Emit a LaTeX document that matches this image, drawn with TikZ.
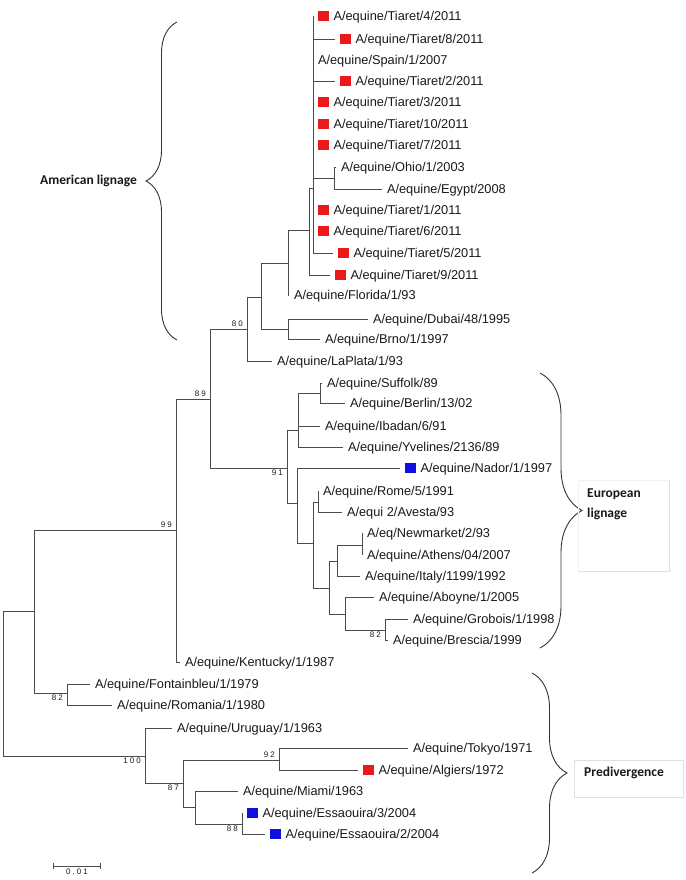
\documentclass[tikz,border=0pt]{standalone}
\usepackage{fontspec}
\usepackage{tikz}
\setmainfont{Liberation Sans}
\newfontfamily\lignagefont{Carlito}
\newfontfamily\bootfont[LetterSpace=25]{Liberation Sans}
\usetikzlibrary{positioning,arrows.meta,decorations.pathreplacing}
\definecolor{tiaretred}{RGB}{235,25,25}
\definecolor{moroccoblue}{RGB}{15,15,225}
\newcommand{\redmark}{\textcolor{tiaretred}{\rule[-0.7pt]{10.5pt}{10.5pt}}\hspace{5pt}}
\newcommand{\bluemark}{\textcolor{moroccoblue}{\rule[-0.7pt]{10.5pt}{10.5pt}}\hspace{5pt}}

\begin{document}
\begin{tikzpicture}[x=1pt,y=-1pt]
	\tikzset{every node/.style={font=\fontsize{12.8}{14}\selectfont,text=black!90}}
	\tikzset{leaf/.style={anchor=west,inner xsep=0pt,outer xsep=5pt,inner ysep=0pt,text height=9.2pt,text depth=0pt}}
	\tikzset{branch/.style={draw=black!70,line width=0.8pt}}
	\tikzset{boot/.style={font=\bootfont\fontsize{8}{9}\selectfont,inner xsep=4pt,inner ysep=2pt}}
	\tikzset{lignage/.style={font=\lignagefont\bfseries\fontsize{13.5}{20}\selectfont,inner sep=0pt,align=left}}
	\tikzset{brace line/.style={draw=black!80,line width=0.9pt,decorate}}
	\tikzset{textbox/.style={draw=black!12,line width=0.8pt}}
	\tikzset{faintbox/.style={draw=black!5,line width=0.8pt}}
	\useasboundingbox (0,0) rectangle (685,880);

	\coordinate (root) at (3,683);
	\coordinate (nG) at (34,611);
	\coordinate (nH) at (67,693);
	\coordinate (n99) at (176,530);
	\coordinate (n89) at (210,399);
	\coordinate (n80) at (247,329);
	\coordinate (nD) at (261,297);
	\coordinate (nC) at (288,263);
	\coordinate (nB) at (309,230);
	\coordinate (nA) at (313,188);
	\coordinate (nOE) at (334,178);
	\coordinate (nDB) at (288,329);
	\coordinate (n91) at (287,468);
	\coordinate (nE1) at (298,430);
	\coordinate (nSB) at (320,393);
	\coordinate (nE2) at (297,503);
	\coordinate (nE3) at (313,543);
	\coordinate (nRA) at (318,502);
	\coordinate (nE4) at (329,588);
	\coordinate (nNAI) at (337,561);
	\coordinate (nNA) at (362,545);
	\coordinate (nAGB) at (345,614);
	\coordinate (nGB) at (385,630);
	\coordinate (nP) at (145,756);
	\coordinate (nQ) at (183,783);
	\coordinate (nT) at (279,760);
	\coordinate (nM) at (195,807);
	\coordinate (nN) at (242,824);

	\node[leaf] (tiaret4) at (313,16) {\redmark A/equine/Tiaret/4/2011};
	\node[leaf] (tiaret8) at (335,39) {\redmark A/equine/Tiaret/8/2011};
	\node[leaf] (spain) at (313,60) {A/equine/Spain/1/2007};
	\node[leaf] (tiaret2) at (335,81) {\redmark A/equine/Tiaret/2/2011};
	\node[leaf] (tiaret3) at (313,102) {\redmark A/equine/Tiaret/3/2011};
	\node[leaf] (tiaret10) at (313,124) {\redmark A/equine/Tiaret/10/2011};
	\node[leaf] (tiaret7) at (313,145) {\redmark A/equine/Tiaret/7/2011};
	\node[leaf] (ohio) at (336,167) {A/equine/Ohio/1/2003};
	\node[leaf] (egypt) at (382,189) {A/equine/Egypt/2008};
	\node[leaf] (tiaret1) at (313,210) {\redmark A/equine/Tiaret/1/2011};
	\node[leaf] (tiaret6) at (313,231) {\redmark A/equine/Tiaret/6/2011};
	\node[leaf] (tiaret5) at (333,253) {\redmark A/equine/Tiaret/5/2011};
	\node[leaf] (tiaret9) at (330,275) {\redmark A/equine/Tiaret/9/2011};
	\node[leaf] (florida) at (289,295) {A/equine/Florida/1/93};
	\node[leaf] (dubai) at (368,319) {A/equine/Dubai/48/1995};
	\node[leaf] (brno) at (320,339) {A/equine/Brno/1/1997};
	\node[leaf] (laplata) at (272,361) {A/equine/LaPlata/1/93};
	\node[leaf] (suffolk) at (322,383) {A/equine/Suffolk/89};
	\node[leaf] (berlin) at (345,403) {A/equine/Berlin/13/02};
	\node[leaf] (ibadan) at (320,426) {A/equine/Ibadan/6/91};
	\node[leaf] (yvelines) at (343,447) {A/equine/Yvelines/2136/89};
	\node[leaf] (nador) at (400,468) {\bluemark A/equine/Nador/1/1997};
	\node[leaf] (rome) at (318,491) {A/equine/Rome/5/1991};
	\node[leaf] (avesta) at (342,512) {A/equi 2/Avesta/93};
	\node[leaf] (newmarket) at (362,533) {A/eq/Newmarket/2/93};
	\node[leaf] (athens) at (362,555) {A/equine/Athens/04/2007};
	\node[leaf] (italy) at (360,576) {A/equine/Italy/1199/1992};
	\node[leaf] (aboyne) at (374,597) {A/equine/Aboyne/1/2005};
	\node[leaf] (grobois) at (408,619) {A/equine/Grobois/1/1998};
	\node[leaf] (brescia) at (388,640) {A/equine/Brescia/1999};
	\node[leaf] (kentucky) at (180,662) {A/equine/Kentucky/1/1987};
	\node[leaf] (fontainbleu) at (90,684) {A/equine/Fontainbleu/1/1979};
	\node[leaf] (romania) at (112,705) {A/equine/Romania/1/1980};
	\node[leaf] (uruguay) at (172,728) {A/equine/Uruguay/1/1963};
	\node[leaf] (tokyo) at (408,748) {A/equine/Tokyo/1971};
	\node[leaf] (algiers) at (358,770) {\redmark A/equine/Algiers/1972};
	\node[leaf] (miami) at (238,791) {A/equine/Miami/1963};
	\node[leaf] (essaouira3) at (242,813) {\bluemark A/equine/Essaouira/3/2004};
	\node[leaf] (essaouira2) at (265,834) {\bluemark A/equine/Essaouira/2/2004};

	\draw[branch] (root) |- (nG) (root) |- (nP);
	\draw[branch] (nG) |- (n99) (nG) |- (nH);
	\draw[branch] (nH) |- (fontainbleu) (nH) |- (romania);
	\draw[branch] (n99) |- (n89) (n99) |- (kentucky);
	\draw[branch] (n89) |- (n80) (n89) |- (n91);
	\draw[branch] (n80) |- (nD) (n80) |- (laplata);
	\draw[branch] (nD) |- (nC) (nD) |- (nDB);
	\draw[branch] (nDB) |- (dubai) (nDB) |- (brno);
	\draw[branch] (nC) |- (nB) (nC) |- (florida);
	\draw[branch] (nB) |- (nA) (nB) |- (tiaret9);
	\draw[branch] (nA) |- (tiaret4) (nA) |- (tiaret8) (nA) |- (spain) (nA) |- (tiaret2) (nA) |- (tiaret3) (nA) |- (tiaret10) (nA) |- (tiaret7) (nA) |- (nOE) (nA) |- (tiaret1) (nA) |- (tiaret6) (nA) |- (tiaret5);
	\draw[branch] (nOE) |- (ohio) (nOE) |- (egypt);
	\draw[branch] (n91) |- (nE1) (n91) |- (nE2);
	\draw[branch] (nE1) |- (nSB) (nE1) |- (ibadan) (nE1) |- (yvelines);
	\draw[branch] (nSB) |- (suffolk) (nSB) |- (berlin);
	\draw[branch] (nE2) |- (nador) (nE2) |- (nE3);
	\draw[branch] (nE3) |- (nRA) (nE3) |- (nE4);
	\draw[branch] (nRA) |- (rome) (nRA) |- (avesta);
	\draw[branch] (nE4) |- (nNAI) (nE4) |- (nAGB);
	\draw[branch] (nNAI) |- (nNA) (nNAI) |- (italy);
	\draw[branch] (nNA) |- (newmarket) (nNA) |- (athens);
	\draw[branch] (nAGB) |- (aboyne) (nAGB) |- (nGB);
	\draw[branch] (nGB) |- (grobois) (nGB) |- (brescia);
	\draw[branch] (nP) |- (uruguay) (nP) |- (nQ);
	\draw[branch] (nQ) |- (nT) (nQ) |- (nM);
	\draw[branch] (nT) |- (tokyo) (nT) |- (algiers);
	\draw[branch] (nM) |- (miami) (nM) |- (nN);
	\draw[branch] (nN) |- (essaouira3) (nN) |- (essaouira2);

	\node[boot,anchor=south east] (b80) at (n80) {80};
	\node[boot,anchor=south east] (b89) at (n89) {89};
	\node[boot,anchor=south east] (b99) at (n99) {99};
	\node[boot,anchor=north east] (b91) at (n91) {91};
	\node[boot,anchor=north east] (b82a) at (nH) {82};
	\node[boot,anchor=north east] (b82b) at (nGB) {82};
	\node[boot,anchor=north east] (b100) at (nP) {100};
	\node[boot,anchor=south east] (b92) at (nT) {92};
	\node[boot,anchor=north east] (b87) at (nQ) {87};
	\node[boot,anchor=north east] (b88) at (nN) {88};

	\coordinate (am1) at (177,340);
	\coordinate (am2) at (177,22);
	\coordinate (amtip) at (146,181);
	\coordinate (eu1) at (540,373);
	\coordinate (eu2) at (540,648);
	\coordinate (eutip) at (582,510);
	\coordinate (pr1) at (532,673);
	\coordinate (pr2) at (532,873);
	\coordinate (prtip) at (567,773);
	\draw[brace line,decoration={brace,amplitude=31pt}] (am1) -- (am2);
	\draw[brace line,decoration={brace,amplitude=42pt}] (eu1) -- (eu2);
	\draw[brace line,decoration={brace,amplitude=35pt}] (pr1) -- (pr2);
	\node[lignage,left=9pt of amtip] (american) {American lignage};
	\node[lignage,right=5pt of eutip,yshift=6pt] (european) {European\\lignage};
	\node[lignage,right=17pt of prtip] (predivergence) {Predivergence};
	\draw[faintbox] (578,571) |- (669,480);
	\draw[textbox] (578,571) -| (669,480);
	\draw[textbox] (574,760) rectangle (683,797);

	\coordinate (sbl) at (53,866);
	\coordinate (sbr) at (101,866);
	\coordinate (sbm) at (77,866);
	\draw[branch,{Bar[width=6pt]}-{Bar[width=6pt]}] (sbl) -- (sbr);
	\node[boot,below=1pt of sbm] (scale) {0.01};
\end{tikzpicture}
\end{document}
